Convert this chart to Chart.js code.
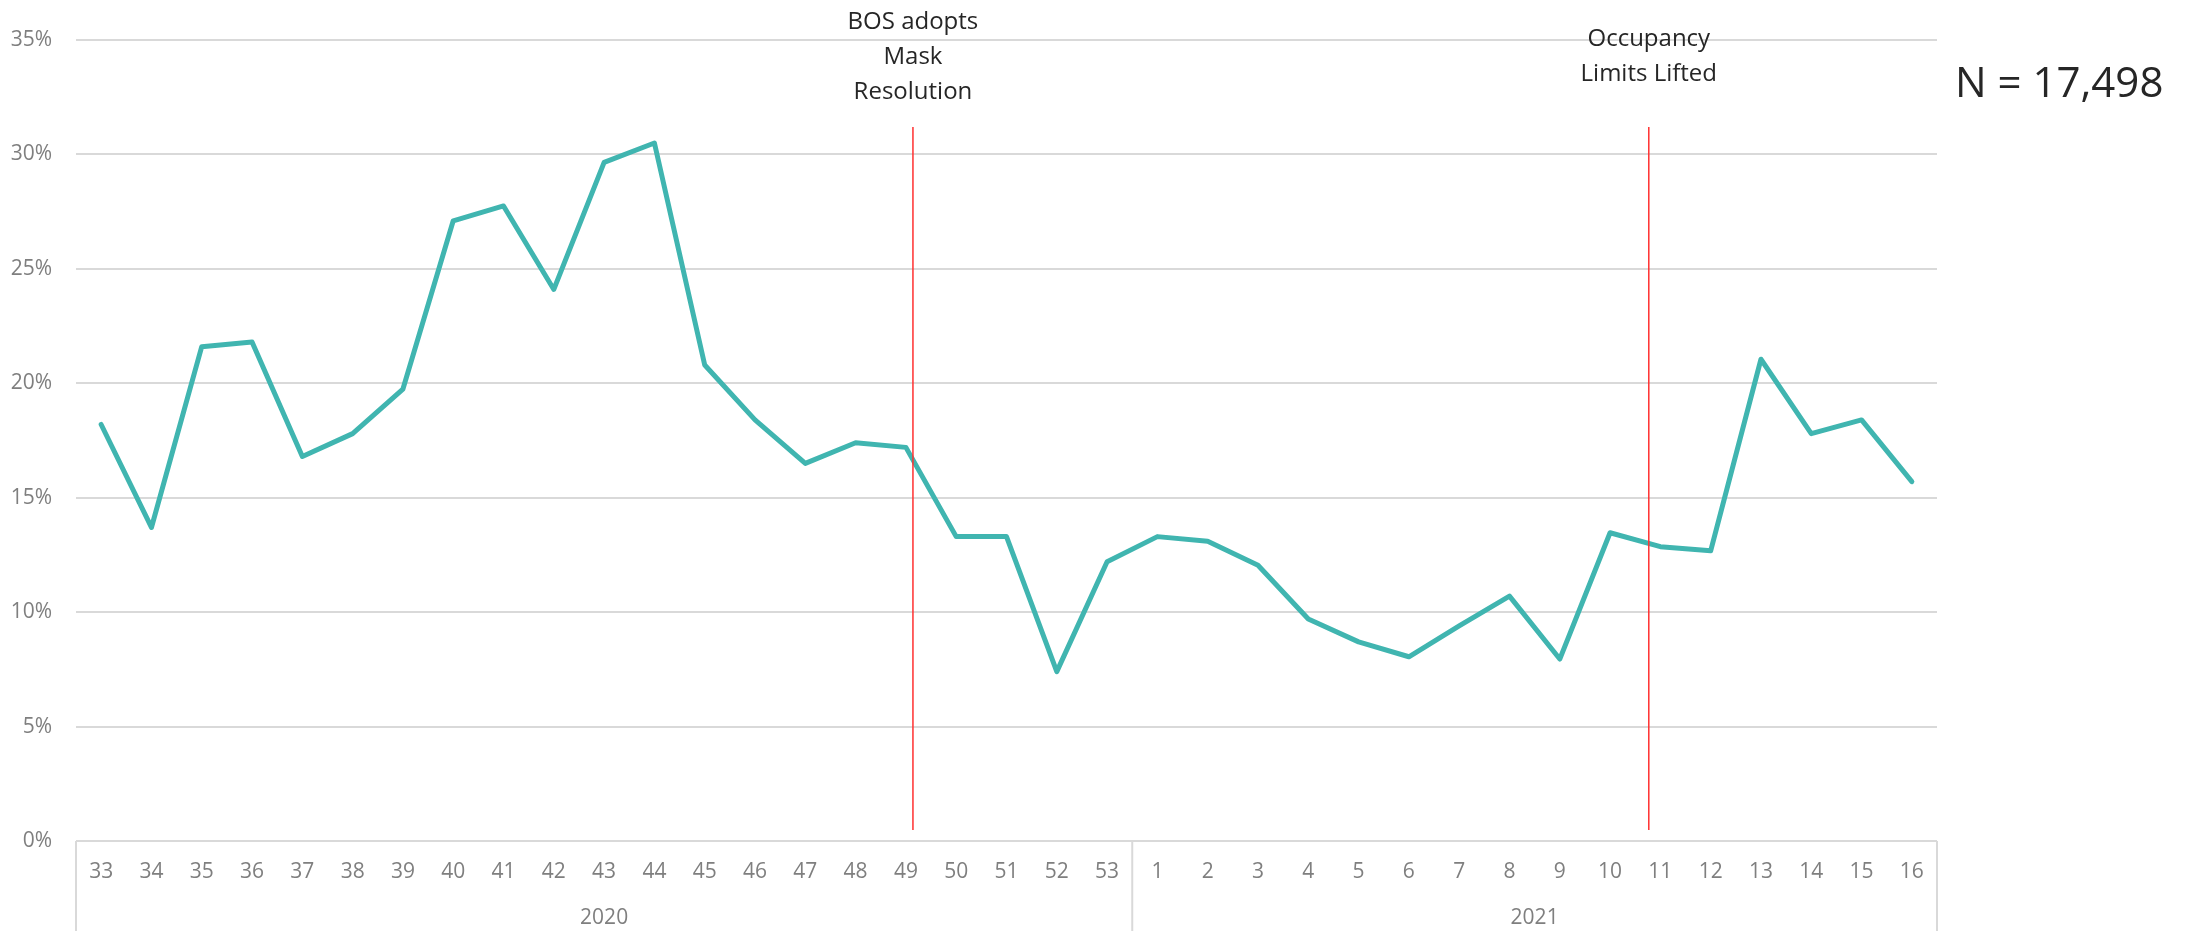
<!DOCTYPE html>
<html lang="en">
  <head>
    <meta charset="UTF-8" />
    <title>Weekly rate</title>
    <script src="https://cdn.jsdelivr.net/npm/chart.js@4.4.1/dist/chart.umd.min.js"></script>
    <style>
      html, body { margin: 0; padding: 0; background: #fff; }
    </style>
  </head>
  <body>
    <canvas id="weeklyChart" width="2190" height="931"></canvas>
  <script>
    // week numbers (x axis), grouped by year
    const weeks = ["33", "34", "35", "36", "37", "38", "39", "40", "41", "42", "43", "44", "45",
      "46", "47", "48", "49", "50", "51", "52", "53",
      "1", "2", "3", "4", "5", "6", "7", "8", "9", "10", "11", "12", "13", "14", "15", "16"];
    const years = ["2020", "2021"];
    const weeksPerYear = [21, 16];

    // weekly share
    const rates = [0.182, 0.137, 0.216, 0.218, 0.168, 0.178, 0.1975, 0.271, 0.2775, 0.241, 0.2965, 0.305, 0.208,
      0.184, 0.165, 0.174, 0.172, 0.133, 0.133, 0.074, 0.122,
      0.133, 0.131, 0.1205, 0.097, 0.087, 0.0805, 0.094, 0.107, 0.0795, 0.1347, 0.1286, 0.1268, 0.2105, 0.178, 0.184, 0.157];

    // events: position in category units (index of week + fraction)
    const eventAt = [16.14, 30.77];
    const eventText = [["BOS adopts", "Mask", "Resolution"], ["Occupancy", "Limits Lifted"]];
    const sampleNote = "N = 17,498";

    const FONT = "'Open Sans', sans-serif";

    const overlay = {
      id: "overlay",
      afterDatasetsDraw(chart) {
        const {ctx, chartArea, scales} = chart;
        const x = scales.x;
        const step = x.getPixelForValue(1) - x.getPixelForValue(0);
        const at = (pos) => x.getPixelForValue(0) + pos * step;

        ctx.save();
        // category box lines under the axis
        ctx.strokeStyle = "#d9d9d9";
        ctx.lineWidth = 2;
        const bounds = [chartArea.left];
        let n = 0;
        weeksPerYear.forEach((c) => { n += c; bounds.push(at(n - 0.5)); });
        bounds[bounds.length - 1] = chartArea.right;
        bounds.forEach((bx) => {
          ctx.beginPath();
          ctx.moveTo(bx, chartArea.bottom);
          ctx.lineTo(bx, chart.height);
          ctx.stroke();
        });

        // year labels
        ctx.fillStyle = "#7f7f7f";
        ctx.font = "21px " + FONT;
        ctx.textAlign = "center";
        ctx.textBaseline = "middle";
        years.forEach((yr, i) => {
          ctx.fillText(yr, (bounds[i] + bounds[i + 1]) / 2, chartArea.bottom + 77);
        });

        // event lines and captions
        eventAt.forEach((pos, i) => {
          const ex = at(pos);
          ctx.strokeStyle = "#ff3030";
          ctx.lineWidth = 1.5;
          ctx.beginPath();
          ctx.moveTo(ex, chartArea.top + 87);
          ctx.lineTo(ex, chartArea.bottom - 11);
          ctx.stroke();

          const lines = eventText[i];
          ctx.fillStyle = "#262626";
          ctx.font = "24px " + FONT;
          lines.forEach((t, j) => {
            ctx.fillText(t, ex, 57 + (j - (lines.length - 1) / 2) * 35);
          });
        });

        // sample size note
        ctx.textAlign = "left";
        ctx.font = "42px " + FONT;
        ctx.fillStyle = "#262626";
        ctx.fillText(sampleNote, chartArea.right + 18, 85);
        ctx.restore();
      },
    };

    const ctx = document.getElementById("weeklyChart").getContext("2d");
    new Chart(ctx, {
      type: "line",
      data: {
        labels: weeks,
        datasets: [
          {
            data: rates,
            borderColor: "#40b5b0",
            borderWidth: 5,
            pointRadius: 0,
            tension: 0,
            borderJoinStyle: "round",
            borderCapStyle: "round",
            fill: false,
          },
        ],
      },
      options: {
        responsive: false,
        animation: false,
        devicePixelRatio: 1,
        layout: {padding: {top: 40, right: 253, left: 0, bottom: 0}},
        plugins: {legend: {display: false}, tooltip: {enabled: false}},
        scales: {
          x: {
            offset: true,
            grid: {display: false, drawTicks: false},
            border: {display: false},
            ticks: {
              color: "#7f7f7f",
              font: {family: FONT, size: 21},
              padding: 18,
              maxRotation: 0,
              autoSkip: false,
            },
            afterFit: (s) => { s.height = 90; },
          },
          y: {
            min: 0,
            max: 0.35,
            grid: {color: "#d9d9d9", lineWidth: 2, drawTicks: false},
            border: {display: false},
            ticks: {
              stepSize: 0.05,
              color: "#7f7f7f",
              font: {family: FONT, size: 21},
              padding: 24,
              callback: (v) => Math.round(v * 100) + "%",
            },
            afterFit: (s) => { s.width = 76; },
          },
        },
      },
      plugins: [overlay],
    });
  </script>
  </body>
</html>
